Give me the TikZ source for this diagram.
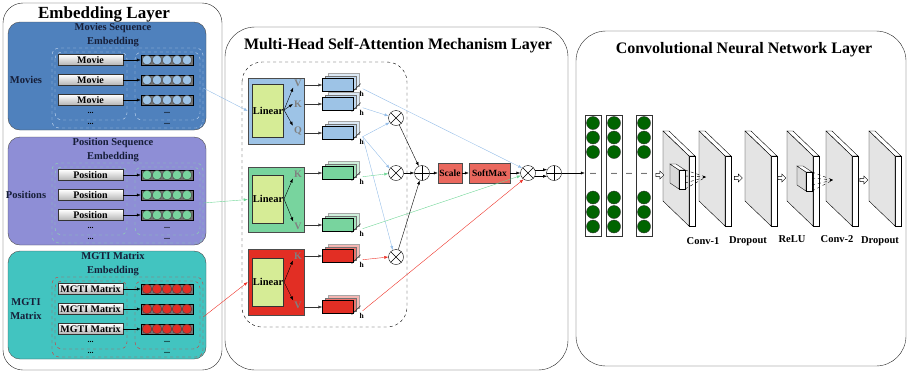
\documentclass[tikz,border=0pt]{standalone}
\usepackage{fontspec}
\setmainfont{Liberation Serif}
\usepackage{tikz}
\usetikzlibrary{calc}
\usetikzlibrary{arrows.meta}
\usetikzlibrary{positioning,shapes.arrows}

\definecolor{MovBlue}{RGB}{79,129,189}
\definecolor{PosPurple}{RGB}{142,142,214}
\definecolor{MgtiTeal}{RGB}{66,196,192}
\definecolor{HeadBlue}{RGB}{157,195,230}
\definecolor{HeadGreen}{RGB}{120,212,158}
\definecolor{HeadRed}{RGB}{226,46,36}
\definecolor{LinYellow}{RGB}{214,236,150}
\definecolor{ScaleRed}{RGB}{234,104,94}
\definecolor{DotGreen}{RGB}{0,100,0}
\definecolor{SlabGray}{RGB}{228,228,228}
\definecolor{LineBlue}{RGB}{150,190,232}
\definecolor{LineGreen}{RGB}{110,214,150}
\definecolor{LineRed}{RGB}{238,50,40}
\definecolor{TitleInk}{RGB}{22,30,56}
\definecolor{DashBlue}{RGB}{205,222,242}
\definecolor{DashGreen}{RGB}{140,222,170}
\definecolor{DashRed}{RGB}{222,50,50}

% embedding vector: dark bar holding five dots
\newcommand{\EmbVec}[3]{%
  \node[VecBar] (#1) at (#2) {};
  \foreach \k in {-2,...,2}
    \filldraw[draw=black!75,fill=#3] ($(#1)+(\k*10,0)$) circle (4.8pt);
}

% h stacked heads, the front one carries the name
\newcommand{\HeadStack}[3]{%
  \node[StackBox,fill=#3!35,draw=black!35] (#1-b2) at ($(#2)+(6,-5)$) {};
  \node[StackBox,fill=#3!65,draw=black!55] (#1-b1) at ($(#2)+(3,-2.5)$) {};
  \node[StackBox,fill=#3] (#1) at (#2) {};
  \draw ($(#1.south east)+(-2,1)$) -- ++(9,-9);
  \node[HLabel] (#1-h) at ($(#1.south east)+(8,2)$) {h};
  \coordinate (#1-o) at ($(#1.south east)+(9,-3)$);
}

% feature map as a thin slab, #1 = left x
\newcommand{\Slab}[2]{%
  \coordinate (#2) at (#1,131);
  \filldraw[fill=white] (#2) -- ++(6,0) -- ++(26,25) -- ++(-6,0) -- cycle;
  \filldraw[fill=white] ($(#2)+(26,25)$) -- ++(6,0) -- ++(0,70) -- ++(-6,0) -- cycle;
  \filldraw[fill=SlabGray] (#2) -- ++(26,25) -- ++(0,70) -- ++(-26,-25) -- cycle;
}

% small filter block, #2 = top left of its front face
\newcommand{\FilterCube}[2]{%
  \coordinate (#1) at (#2);
  \filldraw[fill=black!15] (#1) -- ++(-9,-6) -- ++(0,19) -- ++(9,6) -- cycle;
  \filldraw[fill=white] (#1) -- ++(-9,-6) -- ++(6,0) -- ++(9,6) -- cycle;
  \filldraw[fill=white] (#1) rectangle ++(6,19);
}

\begin{document}
\begin{tikzpicture}[x=1pt,y=-1pt,
Panel/.style={draw=black!85,rounded corners=26pt},
EmbBlock/.style={draw=black!70,rounded corners=12pt},
BlockTitle/.style={font=\bfseries\fontsize{10.5}{13.5}\selectfont,text=TitleInk,align=center},
GroupBox/.style={dashed,rounded corners=7pt,minimum width=151,minimum height=80,inner sep=0},
ItemBox/.style={draw=black!80,top color=white,bottom color=black!30,minimum width=65,minimum height=11,inner sep=0,font=\bfseries\fontsize{10}{10}\selectfont},
VecBar/.style={draw=black,fill=black!55,minimum width=52,minimum height=10,inner sep=0},
Dots/.style={font=\bfseries\fontsize{8}{8}\selectfont,inner sep=0},
BlkArr/.style={-{Latex[length=4pt,width=3pt]},thin},
HeadBox/.style={draw=black!70,minimum width=56,inner sep=0},
LinBox/.style={draw=black!80,fill=LinYellow,minimum width=31,inner sep=0,font=\bfseries\fontsize{10.5}{10.5}\selectfont},
QKV/.style={text=black!50,font=\bfseries\fontsize{10}{10}\selectfont,inner sep=1pt},
StackBox/.style={draw=black,minimum width=31,minimum height=13,inner sep=0},
HLabel/.style={font=\bfseries\fontsize{7.5}{7.5}\selectfont,inner sep=0},
Otimes/.style={circle,draw,fill=white,minimum size=15,inner sep=0,
  path picture={\draw (path picture bounding box.north west) -- (path picture bounding box.south east)
    (path picture bounding box.north east) -- (path picture bounding box.south west);}},
Oplus/.style={circle,draw,fill=white,minimum size=15,inner sep=0,
  path picture={\draw (path picture bounding box.north) -- (path picture bounding box.south)
    (path picture bounding box.east) -- (path picture bounding box.west);}},
OpBox/.style={draw=black!70,fill=ScaleRed,minimum height=20,inner sep=0,font=\bfseries\fontsize{9.5}{9.5}\selectfont},
ColBar/.style={draw=black!80,minimum width=16,minimum height=121,inner sep=0},
CnnDot/.style={draw=black!80,fill=DotGreen},
HollowArr/.style={single arrow,draw,fill=white,minimum height=8,minimum width=8,single arrow head extend=1.5pt,inner sep=0.8pt},
CnnLabel/.style={font=\bfseries\fontsize{10.5}{10.5}\selectfont}
]
\useasboundingbox (0,0) rectangle (909,373);

%%%%% embedding layer
\draw[Panel,rounded corners=20pt] (3,3) rectangle (222,370);
\node[font=\bfseries\fontsize{17}{17}\selectfont] (embT) at (104,14) {Embedding Layer};

\foreach \blk/\off/\bfill/\dcol/\vcol/\itm/\lbl/\ttl in {
  mov/0/MovBlue/DashBlue/HeadBlue/Movie/Movies/Movies Sequence\\Embedding,
  pos/115/PosPurple/DashGreen/HeadGreen/Position/Positions/Position Sequence\\Embedding,
  mgt/229/MgtiTeal/DashRed/HeadRed/MGTI Matrix/MGTI\\Matrix/MGTI Matrix\\Embedding}
{
\begin{scope}[shift={(0,\off)}]
  \draw[EmbBlock,fill=\bfill] (8,22) rectangle (206,130);
  \node[BlockTitle] (\blk-t) at (113,35) {\ttl};
  \node[BlockTitle] (\blk-l) at (26,80) {\lbl};
  \node[GroupBox,draw=\dcol] (\blk-grp) at (127.5,88) {};
  \draw[\dcol,dashed,rounded corners=7pt] (55,52) rectangle (127,120);
  \draw[\dcol,dashed,rounded corners=7pt] (135,52) rectangle (200,120);
  \foreach \r/\ry in {1/60,2/80,3/100} {
    \node[ItemBox] (\blk-it\r) at (90.5,\ry) {\itm};
    \EmbVec{\blk-v\r}{167,\ry}{\vcol}
    \draw[BlkArr] (\blk-it\r) -- (\blk-v\r);
  }
  \node[Dots] (\blk-d1) at (90.5,113) {...};
  \node[Dots] (\blk-d2) at (167,113) {...};
  \node[Dots] (\blk-d3) at (90.5,124) {...};
  \node[Dots] (\blk-d4) at (167,124) {...};
\end{scope}
}

%%%%% multi-head self-attention layer
\draw[Panel,rounded corners=30pt] (225,27) rectangle (568,370);
\node[font=\bfseries\fontsize{16}{16}\selectfont] (mhT) at (398,46) {Multi-Head Self-Attention Mechanism Layer};
\draw[dashed,rounded corners=20pt] (242,62) rectangle (407,327);

% heads
\node[HeadBox,fill=HeadBlue,minimum height=66] (hdB) at (276,111) {};
\node[LinBox,minimum height=53] (linB) at (268,110.5) {Linear};
\node[HeadBox,fill=HeadGreen,minimum height=65] (hdG) at (276,199.5) {};
\node[LinBox,minimum height=48] (linG) at (268,199) {Linear};
\node[HeadBox,fill=HeadRed,minimum height=66] (hdR) at (276,282) {};
\node[LinBox,minimum height=48] (linR) at (268,282) {Linear};

\node[QKV] (vB) at (298,83) {V};
\node[QKV] (kB) at (298,104) {K};
\node[QKV] (qB) at (298,131) {Q};
\node[QKV] (kG) at (298,174) {K};
\node[QKV] (vG) at (298,226) {V};
\node[QKV] (kR) at (298,256) {K};
\node[QKV] (vR) at (298,305) {V};

\coordinate (brB) at (284,110);
\coordinate (brG) at (284,199);
\coordinate (brR) at (284,282);
\draw[BlkArr] (brB) -- (vB.south west);
\draw[BlkArr] (brB) -- (kB.west);
\draw[BlkArr] (brB) -- (qB.north west);
\draw[BlkArr] (brG) -- (kG.south west);
\draw[BlkArr] (brG) -- (vG.north west);
\draw[BlkArr] (brR) -- (kR.south west);
\draw[BlkArr] (brR) -- (vR.north west);

\HeadStack{stBV}{338,85}{HeadBlue}
\HeadStack{stBK}{338,104}{HeadBlue}
\HeadStack{stBQ}{338,133}{HeadBlue}
\HeadStack{stGK}{338,173}{HeadGreen}
\HeadStack{stGV}{338,225}{HeadGreen}
\HeadStack{stRK}{338,256}{HeadRed}
\HeadStack{stRV}{338,307}{HeadRed}

\foreach \s in {stBV,stBK,stBQ,stGK,stGV,stRK,stRV}
  \draw[BlkArr,black!80] (hdB.east |- \s) -- (\s);

% attention scores
\node[Otimes] (ot1) at (396,118) {};
\node[Otimes] (ot2) at (396,173) {};
\node[Otimes] (ot3) at (396,257) {};
\node[Oplus] (op1) at (422,173) {};
\node[OpBox,minimum width=24] (sc) at (450,173) {Scale};
\node[OpBox,minimum width=41] (sm) at (489.5,173) {SoftMax};
\node[Otimes] (ot4) at (528,173) {};
\node[Oplus] (op2) at (554,173) {};

\draw[BlkArr,LineBlue] (stBK-o) -- (ot1.165);
\draw[BlkArr,LineBlue] (stBQ-o) -- (ot1.215);
\draw[BlkArr,LineBlue] (stBQ-o) -- (ot2.145);
\draw[BlkArr,LineBlue] (stBQ-o) -- (ot3.115);
\draw[BlkArr,LineGreen] (stGK-o) -- (ot2.185);
\draw[BlkArr,LineRed] (stRK-o) -- (ot3.180);
\draw[BlkArr,LineBlue] (stBV-o) -- (ot4.140);
\draw[BlkArr,LineGreen] (stGV-o) -- (ot4.200);
\draw[BlkArr,LineRed] (stRV-o) -- (ot4.235);

\draw[BlkArr] (ot1) -- (op1);
\draw[BlkArr] (ot2) -- (op1);
\draw[BlkArr] (ot3) -- (op1);
\draw[BlkArr] (op1) -- (sc);
\draw[BlkArr] (sc) -- (sm);
\draw[BlkArr] (sm) -- (ot4);
\draw[BlkArr] (ot4.25) -- (op2.155);
\draw[BlkArr] (ot4.-25) -- (op2.-155);

% inputs from the embeddings
\draw[BlkArr,LineBlue] (mov-grp.east) -- (hdB.west);
\draw[BlkArr,LineGreen] (pos-grp.east) -- (hdG.west);
\draw[BlkArr,LineRed] (mgt-grp.east) -- (hdR.west);

%%%%% convolutional layer
\draw[Panel,rounded corners=30pt] (576,31) rectangle (906,366);
\node[font=\bfseries\fontsize{16}{16}\selectfont] (cnT) at (744,50) {Convolutional Neural Network Layer};

\foreach \c/\cx in {1/593,2/614,3/644} {
  \node[ColBar] (col\c) at (\cx,175.5) {};
  \foreach \cy in {123,137.5,152,197.5,212,226.5}
    \filldraw[CnnDot] (\cx,\cy) circle (6.5pt);
  \node[Dots] (cd\c) at (\cx,174) {...};
}
\node[Dots] (cdm) at (629,174) {...};
\draw[BlkArr] (op2) -- (col1.west |- op2);

\Slab{663}{sl1}
\Slab{699}{sl2}
\Slab{745}{sl3}
\Slab{787}{sl4}
\Slab{826}{sl5}
\Slab{869}{sl6}

\node[HollowArr] (ha1) at (659,175) {};
\node[HollowArr] (ha2) at (737.5,178) {};
\node[HollowArr] (ha3) at (781,178) {};
\node[HollowArr] (ha4) at (863,180) {};

\FilterCube{cb1}{679,170}
\coordinate (tg1) at (706,177);
\foreach \dy in {0,6,13,19}
  \draw[dashed] ($(cb1)+(6,\dy)$) -- (tg1);
\draw[-{Latex[length=3pt,width=2.5pt]}] ($(tg1)+(-3,0)$) -- (tg1);

\FilterCube{cb2}{806,172}
\coordinate (tg2) at (833,180);
\foreach \dy in {0,6,13,19}
  \draw[dashed] ($(cb2)+(6,\dy)$) -- (tg2);
\draw[-{Latex[length=3pt,width=2.5pt]}] ($(tg2)+(-3,0)$) -- (tg2);

\node[CnnLabel] (lb1) at (703,241) {Conv-1};
\node[CnnLabel] (lb2) at (748,241) {Dropout};
\node[CnnLabel] (lb3) at (792,239) {ReLU};
\node[CnnLabel] (lb4) at (837,239) {Conv-2};
\node[CnnLabel] (lb5) at (880,241) {Dropout};

\end{tikzpicture}
\end{document}
